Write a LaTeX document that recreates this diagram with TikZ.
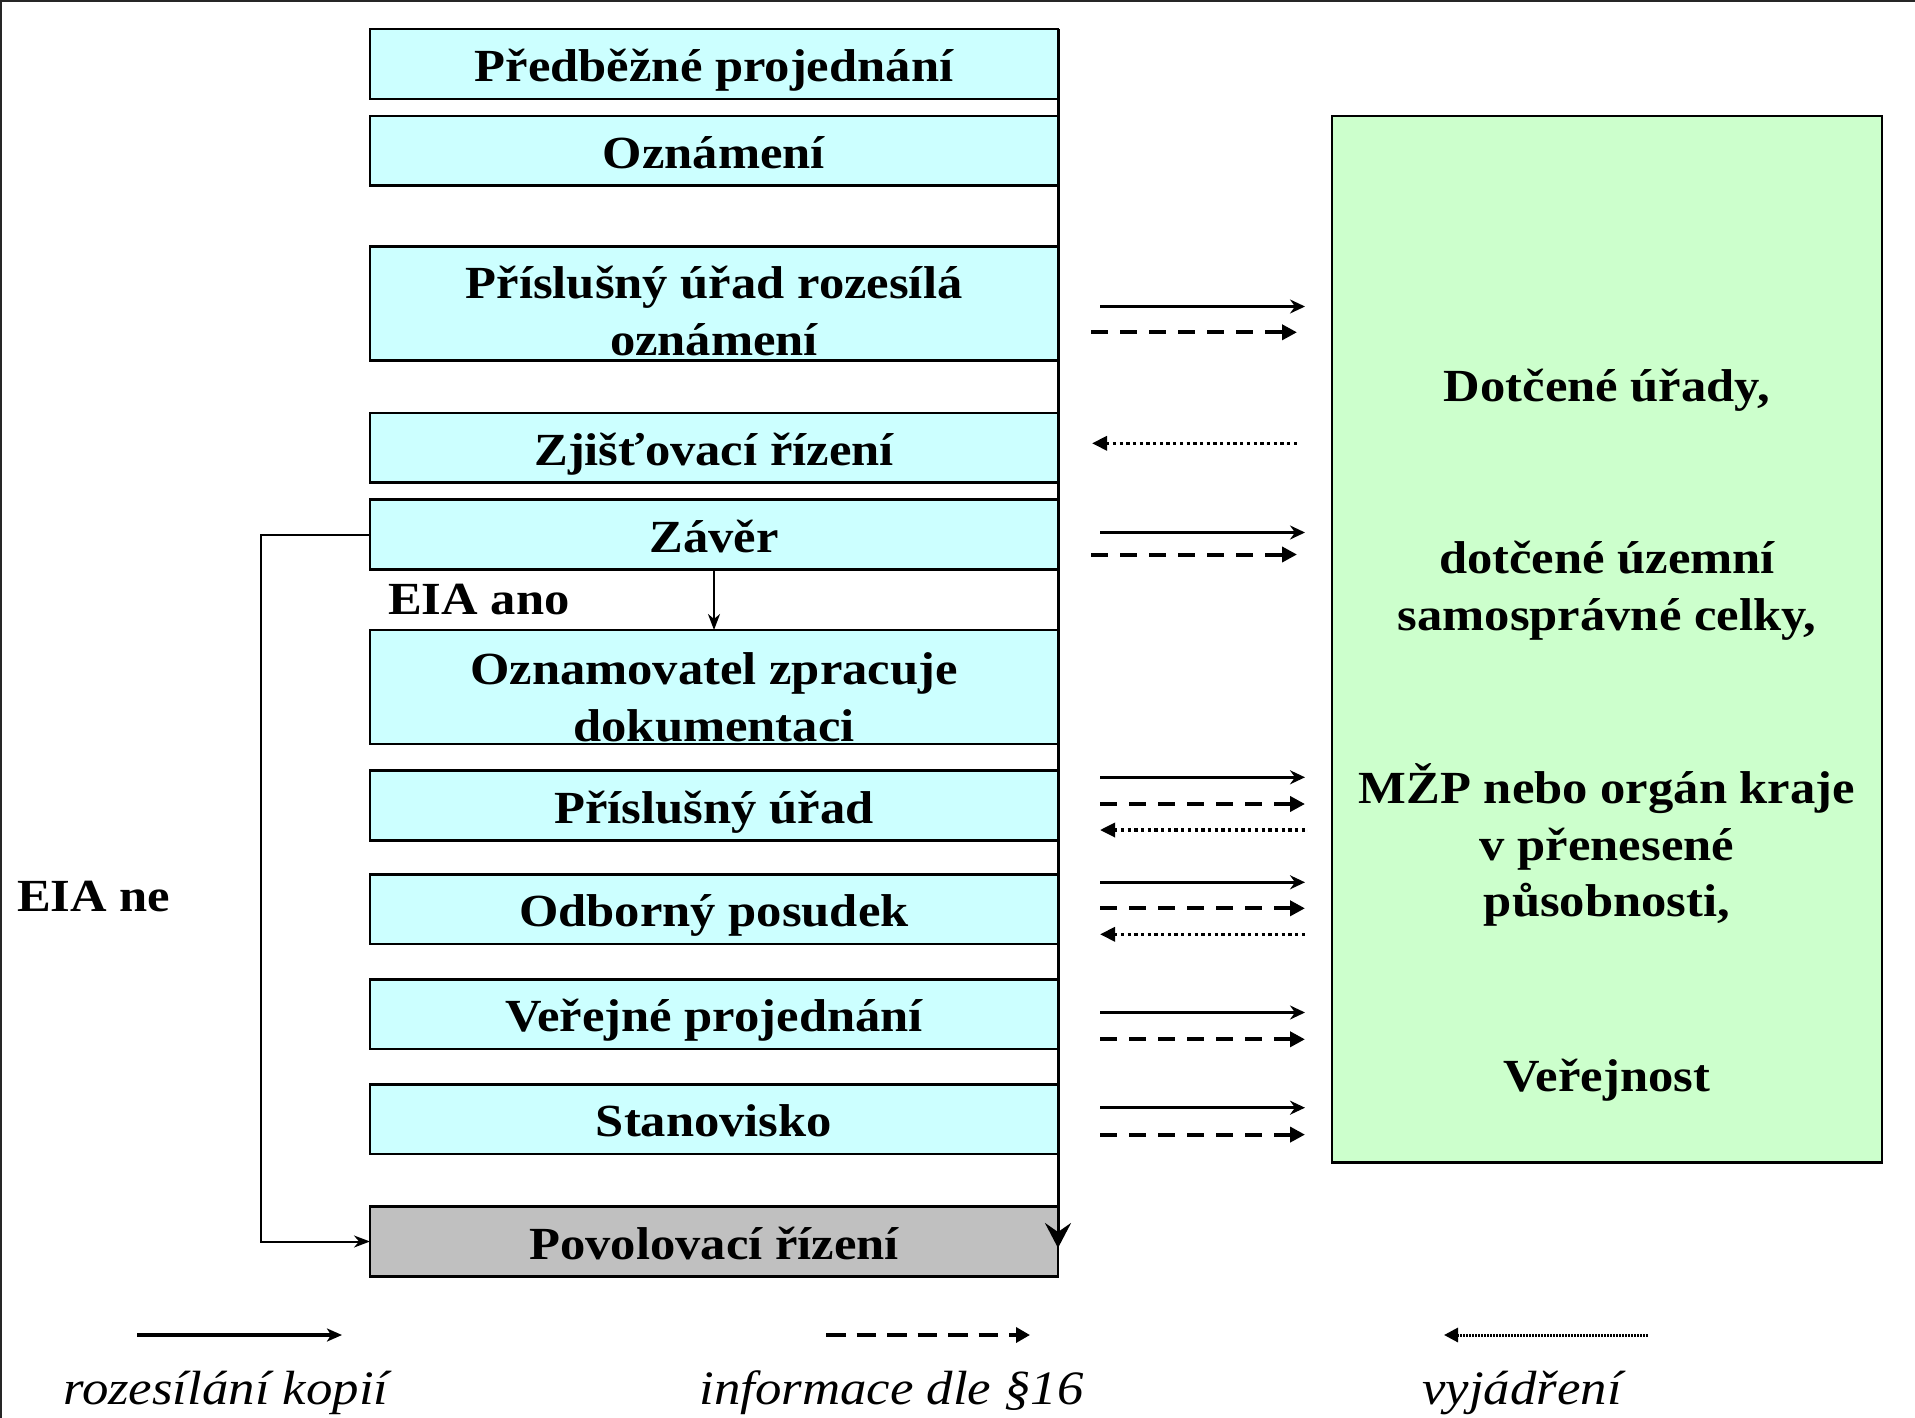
\documentclass[tikz,border=0pt]{standalone}
\usepackage{fontspec}
\setmainfont{Liberation Serif}[FakeStretch=1.1]
\usetikzlibrary{arrows.meta}
\definecolor{cyanbox}{HTML}{CCFFFF}
\definecolor{greenbox}{HTML}{CCFFCC}
\definecolor{graybox}{HTML}{C0C0C0}
\begin{document}
\begin{tikzpicture}[x=1pt,y=-1pt,
  cbox/.style={draw=black, line width=2.6pt, fill=cyanbox, minimum width=688pt, inner sep=0pt, outer sep=0pt},
  gbox/.style={cbox, fill=graybox},
  lbl/.style={font=\fontsize{46}{57}\selectfont\bfseries, anchor=base, inner sep=0pt},
  lblw/.style={lbl, anchor=base west},
  leg/.style={font=\fontsize{48}{57}\selectfont\itshape, anchor=base, inner sep=0pt},
  solidarr/.style={line width=3.3pt, -{Stealth[length=15pt,width=14pt,inset=5pt]}},
  dasharr/.style={line width=4pt, dash pattern=on 17pt off 12pt, -{Triangle[length=15pt,width=15pt]}},
  dotarr/.style={line width=3.3pt, dash pattern=on 3.3pt off 3.4pt, {Triangle[length=15pt,width=14pt]}-},
  thinarr/.style={line width=2pt, -{Stealth[length=16pt,width=12pt,inset=5pt]}},
  mainline/.style={line width=3pt, -{Stealth[length=25pt,width=26pt,inset=9pt]}}
]
\useasboundingbox (0,0) rectangle (1915,1418);
% frame
\draw[line width=2.5pt, black!85] (1,1418) -- (1,1) -- (1915,1);

% process boxes
\node[cbox, minimum height=70pt]   (b1)  at (714,64)    {};
\node[cbox, minimum height=69.6pt] (b2)  at (714,150.8) {};
\node[cbox, minimum height=113.6pt](b3)  at (714,303.5) {};
\node[cbox, minimum height=69.6pt] (b4)  at (714,447.6) {};
\node[cbox, minimum height=70pt]   (b5)  at (714,534.5) {};
\node[cbox, minimum height=114pt]  (b6)  at (714,687)   {};
\node[cbox, minimum height=69.7pt] (b7)  at (714,805.5) {};
\node[cbox, minimum height=69.7pt] (b8)  at (714,909.3) {};
\node[cbox, minimum height=69.6pt] (b9)  at (714,1014.3){};
\node[cbox, minimum height=69.6pt] (b10) at (714,1119.3){};
\node[gbox, minimum height=69.7pt] (b11) at (714,1241.5){};

% main vertical line
\coordinate (mainend) at (1058,1248);
\draw[mainline] (b1.north east) -- (mainend);

% green box
\node[draw=black, line width=2.6pt, fill=greenbox, minimum width=550pt, minimum height=1046.7pt, inner sep=0pt] (g) at (1607,639.4) {};

% box labels
\node[lbl] (t1)  at (714,81.5)  {Předběžné projednání};
\node[lbl] (t2)  at (714,168.3) {Oznámení};
\node[lbl] (t3a) at (714,298)   {Příslušný úřad rozesílá};
\node[lbl] (t3b) at (714,355)   {oznámení};
\node[lbl] (t4)  at (714,465)   {Zjišťovací řízení};
\node[lbl] (t5)  at (714,552)   {Závěr};
\node[lbl] (t6a) at (714,684)   {Oznamovatel zpracuje};
\node[lbl] (t6b) at (714,741)   {dokumentaci};
\node[lbl] (t7)  at (714,823)   {Příslušný úřad};
\node[lbl] (t8)  at (714,926.8) {Odborný posudek};
\node[lbl] (t9)  at (714,1031.8){Veřejné projednání};
\node[lbl] (t10) at (714,1136.8){Stanovisko};
\node[lbl] (t11) at (714,1259)  {Povolovací řízení};

\node[lblw] (eiaano) at (388,614) {EIA ano};
\node[lblw] (eiane)  at (17,911)  {EIA ne};

% green texts
\node[lbl] (g1) at (1607,401)   {Dotčené úřady,};
\node[lbl] (g2) at (1607,573.3) {dotčené územní};
\node[lbl] (g3) at (1607,630)   {samosprávné celky,};
\node[lbl] (g4) at (1607,803.3) {MŽP nebo orgán kraje};
\node[lbl] (g5) at (1607,860)   {v přenesené};
\node[lbl] (g6) at (1607,916)   {působnosti,};
\node[lbl] (g7) at (1607,1091)  {Veřejnost};

% EIA flows
\draw[thinarr] (b5.south) -- (b6.north);
\draw[thinarr] (b5.west) -- ++(-109,0) |- (b11.west);

% exchanges with the authorities
\draw[solidarr] (1100,306.5) -- (1305,306.5);
\draw[dasharr]  (1091,332.3) -- (1297,332.3);
\draw[dotarr]   (1092,443.3) -- (1297,443.3);

\draw[solidarr] (1100,532.5) -- (1305,532.5);
\draw[dasharr]  (1091,554.5) -- (1297,554.5);

\draw[solidarr] (1100,777.3) -- (1305,777.3);
\draw[dasharr]  (1100,804)   -- (1305,804);
\draw[dotarr]   (1100,830)   -- (1305,830);

\draw[solidarr] (1100,882.3) -- (1305,882.3);
\draw[dasharr]  (1100,908.3) -- (1305,908.3);
\draw[dotarr]   (1100,934.3) -- (1305,934.3);

\draw[solidarr] (1100,1012.5) -- (1305,1012.5);
\draw[dasharr]  (1100,1039.3) -- (1305,1039.3);

\draw[solidarr] (1100,1107.7) -- (1305,1107.7);
\draw[dasharr]  (1100,1134.6) -- (1305,1134.6);

% legend
\draw[line width=4pt, -{Stealth[length=15pt,width=13pt,inset=4pt]}] (137,1335) -- (342,1335);
\draw[line width=4.7pt, dash pattern=on 19.5pt off 11pt, -{Triangle[length=14pt,width=15pt]}] (826,1335) -- (1030,1335);
\draw[line width=3pt, dash pattern=on 1.5pt off 1.5pt, {Triangle[length=14pt,width=14pt]}-] (1444,1335) -- (1649,1335);

\node[leg] (l1) at (226,1404.5)  {rozesílání kopií};
\node[leg] (l2) at (891.6,1404.5){informace dle §16};
\node[leg] (l3) at (1522,1404.5) {vyjádření};
\end{tikzpicture}
\end{document}
